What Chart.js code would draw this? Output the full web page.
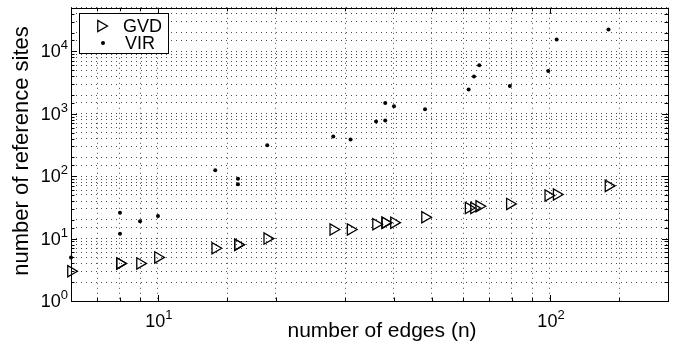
<!DOCTYPE html>
<html>
<head>
<meta charset="utf-8">
<script src="https://cdn.jsdelivr.net/npm/chart.js@4.4.1/dist/chart.umd.min.js"></script>
<style>
  html, body { margin: 0; padding: 0; background: #fff; }
</style>
</head>
<body>
<canvas id="chart" width="679" height="341"></canvas>
<script>
// ---------- DATA ----------
const edges    = [6, 8, 8, 9, 10, 14, 16, 16, 19, 28, 31, 36, 38, 38, 40, 48, 62, 64, 66, 79, 99, 104, 141];
const gvdSites = [3, 4, 4, 4, 5, 7, 8, 8, 10, 14, 14, 17, 18, 18, 18, 22, 31, 31, 33, 36, 49, 51, 70];
const virSites = [5, 26, 12, 19, 23, 125, 91, 74, 313, 431, 386, 754, 1496, 782, 1322, 1184,
                  2462, 3964, 6013, 2786, 4876, 15560, 22450];
const xTickLabels = [10, 100];                 // labelled as 10^1, 10^2
const yTickLabels = [1, 10, 100, 1000, 10000]; // 10^0 .. 10^4
const seriesNames = ['GVD', 'VIR'];

const FONT = "'Liberation Sans', Arial, Helvetica, sans-serif";

const isPow10 = v => Math.abs(Math.log10(v) - Math.round(Math.log10(v))) < 1e-9;

// draws "10" with a raised exponent
function drawPow (ctx, v, x, y, align) {
  const exp = String(Math.round(Math.log10(v)));
  ctx.font = `18px ${FONT}`;
  const w1 = ctx.measureText('10').width;
  ctx.font = `13px ${FONT}`;
  const w2 = ctx.measureText(exp).width;
  const left = align === 'center' ? x - (w1 + w2) / 2 : x - (w1 + w2);
  ctx.textAlign = 'left';
  ctx.textBaseline = 'alphabetic';
  ctx.font = `18px ${FONT}`;
  ctx.fillText('10', left, y);
  ctx.font = `13px ${FONT}`;
  ctx.fillText(exp, left + w1, y - 8);
}

/* axes box, inward ticks, tick labels, titles, legend — MATLAB look */
const matlabFrame = {
  id: 'matlabFrame',
  afterDraw (chart) {
    const { ctx, chartArea: a, scales: { x, y } } = chart;
    ctx.save();
    ctx.strokeStyle = '#000';
    ctx.fillStyle = '#000';
    ctx.lineWidth = 1;

    // inward tick marks on all four sides
    ctx.beginPath();
    x.ticks.forEach(t => {
      const px = Math.round(x.getPixelForValue(t.value)) + 0.5;
      const len = isPow10(t.value) ? 6 : 3.5;
      ctx.moveTo(px, a.bottom); ctx.lineTo(px, a.bottom - len);
      ctx.moveTo(px, a.top);    ctx.lineTo(px, a.top + len);
    });
    y.ticks.forEach(t => {
      const py = Math.round(y.getPixelForValue(t.value)) + 0.5;
      const len = isPow10(t.value) ? 6 : 3.5;
      ctx.moveTo(a.left, py);  ctx.lineTo(a.left + len, py);
      ctx.moveTo(a.right, py); ctx.lineTo(a.right - len, py);
    });
    ctx.stroke();

    // box
    ctx.strokeRect(Math.round(a.left) + 0.5, Math.round(a.top) + 0.5,
                   Math.round(a.right - a.left), Math.round(a.bottom - a.top));

    // tick labels
    xTickLabels.forEach(v => drawPow(ctx, v, x.getPixelForValue(v) + 1, 327, 'center'));
    yTickLabels.forEach(v => drawPow(ctx, v, a.left - 3, y.getPixelForValue(v) + 6, 'right'));

    // axis titles
    ctx.textAlign = 'center';
    ctx.textBaseline = 'alphabetic';
    ctx.font = `21px ${FONT}`;
    ctx.fillText('number of edges (n)', 382, 337);
    ctx.save();
    ctx.translate(28, 151);
    ctx.rotate(-Math.PI / 2);
    ctx.font = `22px ${FONT}`;
    ctx.fillText('number of reference sites', 0, 0);
    ctx.restore();

    // legend
    ctx.fillStyle = '#fff';
    ctx.fillRect(79.5, 13.5, 89, 40);
    ctx.strokeRect(79.5, 13.5, 89, 40);
    ctx.fillStyle = '#000';
    const r = 6.5, tx = 101, ty = 26;
    ctx.lineWidth = 1.3;
    ctx.beginPath();
    ctx.moveTo(tx + r, ty);
    ctx.lineTo(tx - r / 2, ty - r * Math.sqrt(3) / 2);
    ctx.lineTo(tx - r / 2, ty + r * Math.sqrt(3) / 2);
    ctx.closePath();
    ctx.stroke();
    ctx.beginPath();
    ctx.arc(103, 43, 2, 0, Math.PI * 2);
    ctx.fill();
    ctx.font = `18px ${FONT}`;
    ctx.textAlign = 'left';
    ctx.fillText(seriesNames[0], 123, 32);
    ctx.fillText(seriesNames[1], 125, 49);

    ctx.restore();
  }
};

const gridStyle = { color: 'rgba(0,0,0,0.7)', lineWidth: 1, drawTicks: false };

new Chart(document.getElementById('chart').getContext('2d'), {
  type: 'scatter',
  data: {
    datasets: [
      {
        label: seriesNames[0],
        data: edges.map((e, i) => ({ x: e, y: gvdSites[i] })),
        pointStyle: 'triangle',
        rotation: 90,
        pointRadius: 6.5,
        borderWidth: 1.3,
        borderColor: '#000',
        backgroundColor: 'rgba(0,0,0,0)',
        clip: false
      },
      {
        label: seriesNames[1],
        data: edges.map((e, i) => ({ x: e, y: virSites[i] })),
        pointStyle: 'circle',
        pointRadius: 2,
        borderWidth: 0,
        backgroundColor: '#000',
        clip: false
      }
    ]
  },
  options: {
    responsive: false,
    animation: false,
    devicePixelRatio: 1,
    layout: { padding: { top: 7, right: 11, left: 0, bottom: 0 } },
    plugins: { legend: { display: false }, tooltip: { enabled: false } },
    scales: {
      x: {
        type: 'logarithmic', min: 6, max: 200,
        ticks: { display: false },
        grid: gridStyle,
        border: { display: false, dash: [1, 4] },
        afterFit: s => { s.height = 40; }
      },
      y: {
        type: 'logarithmic', min: 1, max: 50000,
        ticks: { display: false },
        grid: gridStyle,
        border: { display: false, dash: [1, 4] },
        afterFit: s => { s.width = 71; }
      }
    }
  },
  plugins: [matlabFrame]
});
</script>
</body>
</html>
